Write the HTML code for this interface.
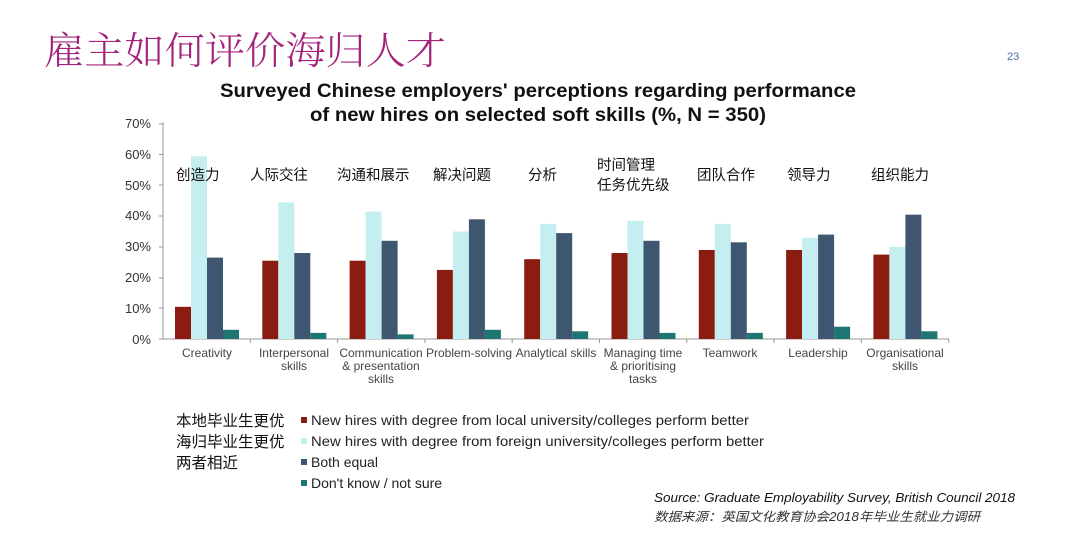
<!DOCTYPE html>
<html><head><meta charset="utf-8"><style>
html,body{margin:0;padding:0;background:#fff;}
svg{display:block;}
</style></head><body>
<svg width="1080" height="552" viewBox="0 0 1080 552" xmlns="http://www.w3.org/2000/svg">
<text x="44" y="64" font-family="'Noto Serif CJK SC','Noto Sans CJK SC',serif" font-size="38" font-weight="300" fill="#a3237b" textLength="402" lengthAdjust="spacingAndGlyphs">雇主如何评价海归人才</text>
<text x="1007" y="60" font-family="'Liberation Sans',sans-serif" font-size="11" fill="#4a6ca8">23</text>
<g font-family="'Liberation Sans',sans-serif" font-weight="bold" font-size="19" fill="#111" text-anchor="middle">
<text x="538" y="97" textLength="636" lengthAdjust="spacingAndGlyphs">Surveyed Chinese employers' perceptions regarding performance</text>
<text x="538" y="121" textLength="456" lengthAdjust="spacingAndGlyphs">of new hires on selected soft skills (%, N = 350)</text>
</g>
<g font-family="'Liberation Sans',sans-serif" font-size="13" fill="#333" text-anchor="end">
<text x="151" y="128">70%</text><text x="151" y="159">60%</text><text x="151" y="190">50%</text><text x="151" y="220">40%</text><text x="151" y="251">30%</text><text x="151" y="282">20%</text><text x="151" y="313">10%</text><text x="151" y="344">0%</text>
</g>
<g stroke="#999" stroke-width="1">
<line x1="163" y1="122" x2="163" y2="339"/>
<line x1="163" y1="339" x2="949" y2="339"/>
<line x1="159" y1="124" x2="163" y2="124"/><line x1="159" y1="154.5" x2="163" y2="154.5"/><line x1="159" y1="185" x2="163" y2="185"/><line x1="159" y1="216" x2="163" y2="216"/><line x1="159" y1="247" x2="163" y2="247"/><line x1="159" y1="278" x2="163" y2="278"/><line x1="159" y1="308" x2="163" y2="308"/><line x1="159" y1="339" x2="163" y2="339"/>
<line x1="250.3" y1="339" x2="250.3" y2="343"/><line x1="337.6" y1="339" x2="337.6" y2="343"/><line x1="424.9" y1="339" x2="424.9" y2="343"/><line x1="512.2" y1="339" x2="512.2" y2="343"/><line x1="599.5" y1="339" x2="599.5" y2="343"/><line x1="686.8" y1="339" x2="686.8" y2="343"/><line x1="774.1" y1="339" x2="774.1" y2="343"/><line x1="861.4" y1="339" x2="861.4" y2="343"/><line x1="948.7" y1="339" x2="948.7" y2="343"/>
</g>
<g>
<rect x="175" y="306.8" width="16" height="32.2" fill="#8b1c12"/><rect x="191" y="156.3" width="16" height="182.7" fill="#c4eef0"/><rect x="207" y="257.6" width="16" height="81.4" fill="#3e5670"/><rect x="223" y="329.8" width="16" height="9.2" fill="#1f7572"/>
<rect x="262.3" y="260.7" width="16" height="78.3" fill="#8b1c12"/><rect x="278.3" y="202.4" width="16" height="136.6" fill="#c4eef0"/><rect x="294.3" y="253" width="16" height="86" fill="#3e5670"/><rect x="310.3" y="332.9" width="16" height="6.1" fill="#1f7572"/>
<rect x="349.6" y="260.7" width="16" height="78.3" fill="#8b1c12"/><rect x="365.6" y="211.6" width="16" height="127.4" fill="#c4eef0"/><rect x="381.6" y="240.8" width="16" height="98.2" fill="#3e5670"/><rect x="397.6" y="334.4" width="16" height="4.6" fill="#1f7572"/>
<rect x="436.9" y="269.9" width="16" height="69.1" fill="#8b1c12"/><rect x="452.9" y="231.5" width="16" height="107.5" fill="#c4eef0"/><rect x="468.9" y="219.3" width="16" height="119.7" fill="#3e5670"/><rect x="484.9" y="329.8" width="16" height="9.2" fill="#1f7572"/>
<rect x="524.2" y="259.2" width="16" height="79.8" fill="#8b1c12"/><rect x="540.2" y="223.9" width="16" height="115.1" fill="#c4eef0"/><rect x="556.2" y="233.1" width="16" height="105.9" fill="#3e5670"/><rect x="572.2" y="331.3" width="16" height="7.7" fill="#1f7572"/>
<rect x="611.5" y="253" width="16" height="86" fill="#8b1c12"/><rect x="627.5" y="220.8" width="16" height="118.2" fill="#c4eef0"/><rect x="643.5" y="240.8" width="16" height="98.2" fill="#3e5670"/><rect x="659.5" y="332.9" width="16" height="6.1" fill="#1f7572"/>
<rect x="698.8" y="250" width="16" height="89" fill="#8b1c12"/><rect x="714.8" y="223.9" width="16" height="115.1" fill="#c4eef0"/><rect x="730.8" y="242.3" width="16" height="96.7" fill="#3e5670"/><rect x="746.8" y="332.9" width="16" height="6.1" fill="#1f7572"/>
<rect x="786.1" y="250" width="16" height="89" fill="#8b1c12"/><rect x="802.1" y="237.7" width="16" height="101.3" fill="#c4eef0"/><rect x="818.1" y="234.6" width="16" height="104.4" fill="#3e5670"/><rect x="834.1" y="326.7" width="16" height="12.3" fill="#1f7572"/>
<rect x="873.4" y="254.6" width="16" height="84.4" fill="#8b1c12"/><rect x="889.4" y="246.9" width="16" height="92.1" fill="#c4eef0"/><rect x="905.4" y="214.7" width="16" height="124.3" fill="#3e5670"/><rect x="921.4" y="331.3" width="16" height="7.7" fill="#1f7572"/>
</g>
<g font-family="'Liberation Sans',sans-serif" font-size="12" fill="#444" text-anchor="middle">
<text x="207" y="357">Creativity</text>
<text x="294" y="357">Interpersonal</text><text x="294" y="370">skills</text>
<text x="381" y="357">Communication</text><text x="381" y="370">&amp; presentation</text><text x="381" y="383">skills</text>
<text x="469" y="357">Problem-solving</text>
<text x="556" y="357">Analytical skills</text>
<text x="643" y="357">Managing time</text><text x="643" y="370">&amp; prioritising</text><text x="643" y="383">tasks</text>
<text x="730" y="357">Teamwork</text>
<text x="818" y="357">Leadership</text>
<text x="905" y="357">Organisational</text><text x="905" y="370">skills</text>
</g>
<g font-family="'Noto Sans CJK SC',sans-serif" font-size="14.5" fill="#111">
<text x="176" y="180">创造力</text>
<text x="250" y="180">人际交往</text>
<text x="337" y="180">沟通和展示</text>
<text x="433" y="180">解决问题</text>
<text x="528" y="180">分析</text>
<text x="597" y="170">时间管理</text><text x="597" y="190">任务优先级</text>
<text x="697" y="180">团队合作</text>
<text x="787" y="180">领导力</text>
<text x="871" y="180">组织能力</text>
</g>
<g font-family="'Noto Sans CJK SC',sans-serif" font-size="15.5" fill="#111">
<text x="176" y="426">本地毕业生更优</text>
<text x="176" y="447">海归毕业生更优</text>
<text x="176" y="468">两者相近</text>
</g>
<g>
<rect x="301" y="417" width="6" height="6" fill="#8b1c12"/>
<rect x="301" y="438" width="6" height="6" fill="#c4eef0"/>
<rect x="301" y="459" width="6" height="6" fill="#3e5670"/>
<rect x="301" y="480" width="6" height="6" fill="#1f7572"/>
</g>
<g font-family="'Liberation Sans',sans-serif" font-size="14" fill="#222">
<text x="311" y="425" textLength="438" lengthAdjust="spacingAndGlyphs">New hires with degree from local university/colleges perform better</text>
<text x="311" y="446" textLength="453" lengthAdjust="spacingAndGlyphs">New hires with degree from foreign university/colleges perform better</text>
<text x="311" y="467">Both equal</text>
<text x="311" y="488">Don't know / not sure</text>
</g>
<text x="654" y="502" font-family="'Liberation Sans',sans-serif" font-style="italic" font-size="13" fill="#111" textLength="361" lengthAdjust="spacingAndGlyphs">Source: Graduate Employability Survey, British Council 2018</text>
<text x="654" y="521" font-family="'Liberation Sans','Noto Sans CJK SC',sans-serif" font-style="italic" font-size="12.5" fill="#333" textLength="326" lengthAdjust="spacingAndGlyphs">数据来源：英国文化教育协会2018年毕业生就业力调研</text>
</svg>
</body></html>
